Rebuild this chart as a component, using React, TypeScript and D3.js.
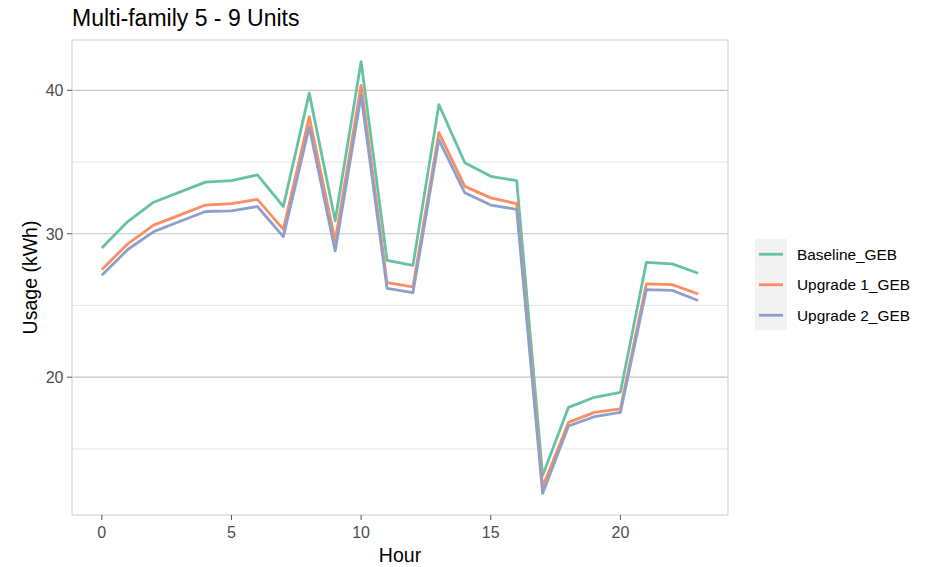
import React from "react";
import * as d3 from "d3";

const hours = d3.range(0, 24);
const seriesNames = ["Baseline_GEB", "Upgrade 1_GEB", "Upgrade 2_GEB"];
const seriesColors = ["#66c2a5", "#fc8d62", "#8da0cb"];
const baseline = [29.0, 30.85, 32.2, 32.9, 33.6, 33.7, 34.1, 31.9, 39.8, 30.9, 42.0, 28.15, 27.8, 39.0, 34.95, 34.0, 33.7, 13.15, 17.9, 18.6, 18.95, 28.0, 27.9, 27.25];
const upgrade1 = [27.5, 29.3, 30.6, 31.3, 32.0, 32.1, 32.4, 30.3, 38.15, 29.5, 40.35, 26.6, 26.3, 37.05, 33.3, 32.5, 32.1, 12.35, 16.85, 17.55, 17.8, 26.5, 26.45, 25.8];
const upgrade2 = [27.1, 28.9, 30.15, 30.85, 31.55, 31.6, 31.9, 29.8, 37.45, 28.8, 39.65, 26.2, 25.9, 36.55, 32.85, 32.0, 31.7, 11.9, 16.6, 17.25, 17.55, 26.1, 26.05, 25.35];
const xTicks = [0, 5, 10, 15, 20];
const yMajor = [20, 30, 40];
const yMinor = [15, 25, 35];

const W = 926, H = 567;
const P = { left: 72, right: 728, top: 40, bottom: 515 };
const FONT = "'Liberation Sans', Arial, sans-serif";

export default function App() {
  const all = [...baseline, ...upgrade1, ...upgrade2];
  const [ymin, ymax] = d3.extent(all) as [number, number];
  const yexp = (ymax - ymin) * 0.05;
  const x = d3.scaleLinear().domain([0 - 23 * 0.05, 23 + 23 * 0.05]).range([P.left, P.right]);
  const y = d3.scaleLinear().domain([ymin - yexp, ymax + yexp]).range([P.bottom, P.top]);
  const line = d3.line<number>().x((_, i) => x(hours[i])).y((d) => y(d));
  const data = [baseline, upgrade1, upgrade2];

  const legX = 755, legY0 = 239, keyH = 30.5;

  return (
    <svg width={W} height={H} style={{ position: "absolute", left: 0, top: 0, background: "#fff" }} fontFamily={FONT}>
      <rect x={0} y={0} width={W} height={H} fill="#fff" />
      <text x={72} y={26} fontSize={23} fill="#000">Multi-family 5 - 9 Units</text>
      {yMinor.map((v) => (
        <line key={"mi" + v} x1={P.left} x2={P.right} y1={y(v)} y2={y(v)} stroke="#e0e0e0" strokeWidth={0.8} />
      ))}
      {yMajor.map((v) => (
        <line key={"ma" + v} x1={P.left} x2={P.right} y1={y(v)} y2={y(v)} stroke="#c4c4c4" strokeWidth={1.2} />
      ))}
      {data.map((d, i) => (
        <path key={i} d={line(d) || ""} fill="none" stroke={seriesColors[i]} strokeWidth={2.8} strokeLinejoin="round" />
      ))}
      <rect x={P.left} y={P.top} width={P.right - P.left} height={P.bottom - P.top} fill="none" stroke="#d6d6d6" strokeWidth={1.2} />
      {yMajor.map((v) => (
        <g key={"yt" + v}>
          <line x1={P.left - 5} x2={P.left} y1={y(v)} y2={y(v)} stroke="#555" strokeWidth={1} />
          <text x={P.left - 8.5} y={y(v) + 6} textAnchor="end" fontSize={16} fill="#4d4d4d">{v}</text>
        </g>
      ))}
      {xTicks.map((v) => (
        <g key={"xt" + v}>
          <line x1={x(v)} x2={x(v)} y1={P.bottom} y2={P.bottom + 5} stroke="#555" strokeWidth={1} />
          <text x={x(v)} y={538} textAnchor="middle" fontSize={16} fill="#4d4d4d">{v}</text>
        </g>
      ))}
      <text x={(P.left + P.right) / 2} y={562} textAnchor="middle" fontSize={19.5} fill="#000">Hour</text>
      <text transform={`translate(37, ${(P.top + P.bottom) / 2}) rotate(-90)`} textAnchor="middle" fontSize={19.5} fill="#000">Usage (kWh)</text>
      {seriesNames.map((n, i) => (
        <g key={n}>
          <rect x={legX} y={legY0 + i * keyH} width={32} height={keyH} fill="#f2f2f2" />
          <line x1={legX + 4} x2={legX + 28} y1={legY0 + i * keyH + keyH / 2} y2={legY0 + i * keyH + keyH / 2} stroke={seriesColors[i]} strokeWidth={2.8} />
          <text x={797} y={legY0 + i * keyH + keyH / 2} dy="0.35em" fontSize={15.4} fill="#000">{n}</text>
        </g>
      ))}
    </svg>
  );
}
